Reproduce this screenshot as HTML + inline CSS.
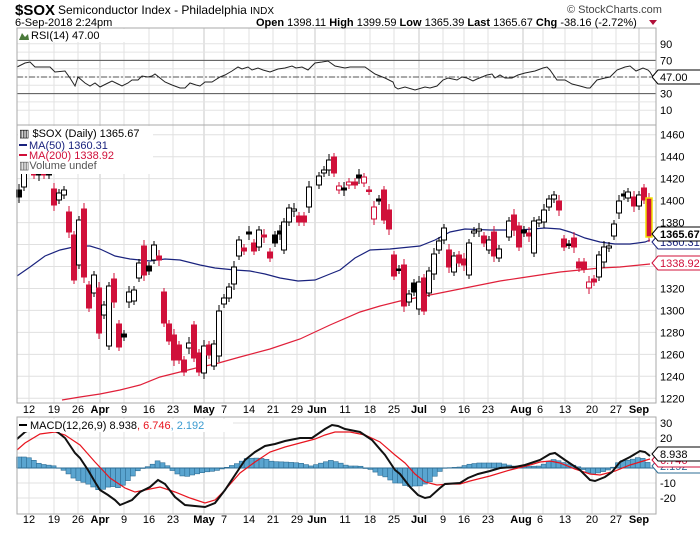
<!DOCTYPE html>
<html><head><meta charset="utf-8"><style>
body{margin:0;background:#fff;width:700px;height:530px;overflow:hidden;font-family:"Liberation Sans",sans-serif}
svg text{font-family:"Liberation Sans",sans-serif;font-size:11px}
</style></head><body>
<svg id="s" width="700" height="530" xmlns="http://www.w3.org/2000/svg">
<rect width="700" height="530" fill="#fff"/>
<g id="grid" stroke="#d8d8d8" stroke-width="1"></g>
<g id="content"></g>
<text x="15" y="15" style="font-size:15px;font-weight:bold">$SOX</text>
<text x="58" y="14" style="font-size:12px">Semiconductor Index - Philadelphia <tspan style="font-size:10px">INDX</tspan></text>
<text x="15" y="26" style="font-size:11px">6-Sep-2018 2:24pm</text>
<text x="256" y="26" style="font-size:11px"><tspan font-weight="bold">Open</tspan> 1398.11 <tspan font-weight="bold">High</tspan> 1399.59 <tspan font-weight="bold">Low</tspan> 1365.39 <tspan font-weight="bold">Last</tspan> 1365.67 <tspan font-weight="bold">Chg</tspan> -38.16 (-2.72%)</text>
<polygon points="649,20 657,20 653,25" fill="#b0103a"/>
<text x="567" y="13" style="font-size:11px;fill:#444">© StockCharts.com</text>
</svg>
<script>
var NS="http://www.w3.org/2000/svg",C=document.getElementById('content'),G=document.getElementById('grid');
function el(t,a,p){var e=document.createElementNS(NS,t);for(var k in a)e.setAttribute(k,a[k]);(p||C).appendChild(e);return e;}
function txt(x,y,s,a){a=a||{};a.x=x;a.y=y;var e=el('text',a);e.textContent=s;return e;}
var L=17,R=656;
var vx=[29,54,78,100,124,149,173,204,224,249,273,297,315,345,370,394,419,443,464,488,523,543,565,592,616,639];
var panels=[[28,125],[125,403],[417,514]];
vx.forEach(function(x){panels.forEach(function(p){el('line',{x1:x,x2:x,y1:p[0],y2:p[1],stroke:(x==100||x==204||x==315||x==419||x==523||x==639)?'#c8c8c8':'#e0e0e0'},G);});});
function ry(v){return 77-(v-50)*0.83;}
for(var v=10;v<=90;v+=10){el('line',{x1:L,x2:R,y1:ry(v),y2:ry(v),stroke:'#e4e4e4'},G);}
function py(p){return 156.7+(1440-p)*1.098;}
for(var p=1220;p<=1460;p+=20){el('line',{x1:L,x2:R,y1:py(p),y2:py(p),stroke:'#e0e0e0'},G);txt(660,py(p)+4,String(p));}
function my(v){return 468-v*1.5;}
[30,20,10,0,-10,-20].forEach(function(v){el('line',{x1:L,x2:R,y1:my(v),y2:my(v),stroke:'#e0e0e0'},G);});
[[30,'30'],[20,'20'],[-10,'-10'],[-20,'-20']].forEach(function(a){txt(660,my(a[0])+4,a[1]);});
el('line',{x1:L,x2:R,y1:ry(70),y2:ry(70),stroke:'#555'});
el('line',{x1:L,x2:R,y1:ry(30),y2:ry(30),stroke:'#555'});
el('line',{x1:L,x2:R,y1:ry(50),y2:ry(50),stroke:'#555','stroke-dasharray':'6,2,2,2'});
[[90],[70],[30],[10]].forEach(function(a){txt(660,ry(a[0])+4,String(a[0]));});
var rsi=[[17,67],[25,63],[30,62],[35,67],[50,67],[55,72],[65,71],[70,78],[75,86],[78,77],[85,83],[90,86],[95,83],[100,87],[108,83],[112,81],[118,84],[122,86],[128,83],[132,80],[138,80],[142,76],[148,77],[152,76],[155,74],[160,78],[165,82],[172,85],[180,88],[185,88],[190,83],[196,85],[200,86],[205,82],[212,82],[220,77],[225,75],[232,71],[238,67],[242,69],[248,67],[252,70],[258,68],[263,70],[270,72],[278,69],[285,68],[292,66],[296,68],[302,67],[308,70],[315,63],[322,62],[328,61],[335,66],[345,68],[350,67],[365,67],[375,74],[380,76],[385,78],[393,82],[395,87],[398,89],[405,87],[415,90],[425,87],[430,88],[437,86],[443,80],[448,78],[457,80],[462,77],[467,78],[473,81],[477,79],[487,75],[492,74],[495,78],[500,75],[505,78],[512,78],[518,75],[525,73],[535,71],[543,68],[547,67],[550,70],[557,80],[565,80],[572,84],[580,86],[587,88],[590,88],[597,80],[605,78],[610,77],[617,70],[625,67],[630,66],[636,71],[643,68],[648,70],[650,72],[653,77]];
function poly(pts,st,w){el('polyline',{points:pts.map(function(p){return p.join(',')}).join(' '),fill:'none',stroke:st,'stroke-width':w||1});}
poly(rsi,'#222',1);
poly([[17,276],[30,267],[45,256],[60,250],[78,246],[90,246],[100,249],[115,256],[130,259],[150,261],[165,259],[180,260],[200,265],[215,268],[235,270],[250,271],[265,274],[280,278],[298,281],[315,280],[330,274],[340,270],[355,258],[370,250],[390,249],[410,247],[420,246],[435,240],[450,232],[465,229],[490,230],[520,230],[545,228],[560,229],[570,232],[585,238],[600,242],[615,244],[630,244],[645,242],[650,240]],'#1a237e',1.2);
poly([[62,400],[80,397],[100,394],[120,390],[140,385],[160,377],[180,372],[200,367],[215,364],[240,357],[270,349],[300,339],[330,325],[360,312],[380,306],[400,301],[420,297],[440,293],[470,287],[500,281],[520,278],[540,275],[560,272],[580,270],[600,268],[620,267],[640,265],[650,264]],'#e0203a',1.2);
var cd=[[19,190,197,'b'],[24,170,187,'h'],[34,170,175,'r'],[39,170,175,'b'],[44,170,175,'r'],[49,170,175,'b'],[54,189,205,'r'],[59,193,200,'h'],[64,190,195,'h'],[69,212,232,'r'],[74,235,280,'r'],[79,220,265,'h'],[84,209,277,'r'],[89,285,308,'r'],[94,275,293,'h'],[99,288,333,'r'],[104,305,315,'h'],[109,286,346,'h'],[114,279,302,'r'],[119,324,347,'r'],[124,334,337,'b'],[129,292,302,'h'],[134,290,301,'h'],[139,263,278,'h'],[144,246,275,'r'],[149,266,271,'b'],[154,245,260,'h'],[159,256,260,'r'],[164,292,323,'r'],[169,324,341,'r'],[174,335,360,'r'],[179,345,360,'r'],[184,360,372,'r'],[189,343,348,'h'],[194,325,358,'r'],[199,353,372,'r'],[204,346,373,'h'],[209,345,355,'r'],[214,344,366,'h'],[219,311,356,'h'],[224,298,304,'h'],[229,287,298,'h'],[234,267,284,'h'],[239,240,256,'h'],[244,248,251,'r'],[249,232,234,'b'],[254,243,251,'r'],[259,230,247,'h'],[264,235,237,'r'],[270,252,258,'r'],[275,235,243,'b'],[280,231,234,'b'],[284,222,250,'h'],[289,208,222,'h'],[294,209,211,'h'],[299,216,222,'r'],[304,216,222,'r'],[309,187,207,'h'],[319,176,185,'h'],[324,170,173,'h'],[329,160,170,'h'],[334,157,173,'r'],[339,186,190,'o'],[344,188,190,'b'],[349,182,185,'o'],[355,182,185,'r'],[359,175,178,'b'],[364,177,183,'o'],[369,190,191,'r'],[374,207,219,'o'],[379,199,201,'b'],[384,190,220,'r'],[389,210,229,'r'],[394,255,276,'r'],[399,269,270,'b'],[404,265,306,'r'],[409,294,302,'h'],[414,283,292,'b'],[419,282,309,'h'],[424,278,311,'r'],[429,271,293,'h'],[434,254,274,'h'],[439,241,250,'h'],[444,228,240,'h'],[449,250,267,'r'],[454,256,272,'h'],[459,255,263,'r'],[464,259,265,'r'],[469,243,275,'h'],[474,231,233,'h'],[479,229,231,'h'],[484,236,243,'r'],[489,240,250,'h'],[494,232,256,'r'],[499,249,258,'h'],[509,221,237,'h'],[514,215,230,'r'],[519,226,247,'r'],[524,230,233,'b'],[529,233,236,'r'],[534,221,253,'h'],[539,220,223,'h'],[544,210,222,'h'],[549,199,207,'h'],[554,195,199,'h'],[559,201,210,'r'],[564,239,247,'r'],[569,244,245,'b'],[574,238,247,'r'],[579,262,268,'r'],[584,262,269,'r'],[589,282,288,'o'],[594,279,282,'r'],[599,255,277,'h'],[604,247,262,'h'],[609,246,248,'h'],[614,224,236,'h'],[619,201,213,'h'],[624,194,196,'b'],[628,192,198,'h'],[634,197,206,'r'],[639,195,206,'h'],[644,188,200,'r'],[649,199,236,'r']];
cd.forEach(function(c,i){var col=(c[3]=='r'||c[3]=='o')?'#d0103a':'#000';var w=(i%3==0)?6:4;
 el('line',{x1:c[0],x2:c[0],y1:Math.max(126,c[1]-w),y2:c[2]+w,stroke:col});
 var h=Math.max(1.5,c[2]-c[1]);var fill=(c[3]=='r'||c[3]=='b')?col:'#fff';
 el('rect',{x:c[0]-2.5,y:c[1],width:5,height:h,fill:fill,stroke:col,'stroke-width':1});});
el('rect',{x:646,y:198,width:6,height:39,fill:'none',stroke:'#f0e000','stroke-width':1.5});
var bk=[[17,439],[25,432],[30,430],[55,430],[65,438],[75,453],[80,458],[88,470],[95,482],[100,490],[108,495],[115,500],[120,505],[125,503],[132,500],[140,492],[150,487],[158,480],[165,484],[175,497],[185,505],[195,506],[205,507],[215,503],[225,490],[235,475],[245,460],[255,452],[265,446],[275,444],[285,441],[300,438],[312,438],[325,429],[332,425],[338,426],[345,429],[360,432],[372,440],[385,455],[395,470],[400,474],[410,487],[418,495],[425,498],[430,497],[440,488],[445,484],[460,483],[468,478],[478,474],[490,471],[500,468],[515,467],[525,465],[540,460],[550,454],[555,453],[565,460],[580,470],[590,480],[595,481],[605,477],[612,472],[620,462],[630,457],[640,451],[645,452],[650,456]];
var rd=[[17,450],[25,443],[40,434],[55,432],[65,435],[80,445],[95,462],[110,478],[125,488],[135,492],[145,490],[160,487],[175,492],[190,498],[205,503],[215,500],[225,490],[240,473],[255,462],[270,452],[285,447],[300,443],[315,439],[325,435],[335,432],[350,432],[365,435],[380,442],[395,455],[405,463],[415,474],[425,482],[437,485],[450,484],[460,484],[470,481],[490,476],[510,470],[530,465],[540,462],[550,461],[560,463],[575,469],[590,474],[600,475],[615,471],[630,465],[640,462],[650,459]];
function interp(a,x){for(var i=0;i<a.length-1;i++){if(x>=a[i][0]&&x<=a[i+1][0]){var t=(x-a[i][0])/(a[i+1][0]-a[i][0]);return a[i][1]+t*(a[i+1][1]-a[i][1]);}}return a[a.length-1][1];}
for(var x=19;x<=651;x+=4.95){var hv=(interp(rd,x)-interp(bk,x));var y0=468,y1=468-hv;
 el('rect',{x:x-2.5,y:Math.min(y0,y1),width:4.95,height:Math.max(0.5,Math.abs(hv)),fill:'#5aa5d0',stroke:'#2e6d94','stroke-width':0.6});}
el('line',{x1:L,x2:R,y1:468,y2:468,stroke:'#2e6d94'});
poly(rd,'#e8141e',1.2);poly(bk,'#111',2);
panels.forEach(function(p){el('rect',{x:L,y:p[0],width:R-L,height:p[1]-p[0],fill:'none',stroke:'#aaa'});});
var lb=[[29,'12'],[54,'19'],[78,'26'],[100,'Apr',1],[124,'9'],[149,'16'],[173,'23'],[204,'May',1],[224,'7'],[249,'14'],[273,'21'],[297,'29'],[317,'Jun',1],[345,'11'],[370,'18'],[394,'25'],[419,'Jul',1],[443,'9'],[464,'16'],[488,'23'],[521,'Aug',1],[540,'6'],[565,'13'],[592,'20'],[616,'27'],[639,'Sep',1]];
[413,523].forEach(function(y){lb.forEach(function(l){var t=txt(l[0],y,l[1],{'text-anchor':'middle'});if(l[2])t.setAttribute('font-weight','bold');});});
el('rect',{x:18,y:29,width:110,height:13,fill:'#fff'});
el('path',{d:'M19,40 L22,33 L25,37 L28,34 L29,40 Z',fill:'#4a7a3a'});
txt(31,39,'RSI(14) 47.00');
el('rect',{x:18,y:126,width:135,height:48,fill:'#fff'});
txt(19,137,'▥ $SOX (Daily) 1365.67');
el('line',{x1:19,x2:27,y1:145,y2:145,stroke:'#1a237e','stroke-width':2});txt(29,149,'MA(50) 1360.31',{fill:'#1a237e'});
el('line',{x1:19,x2:27,y1:155,y2:155,stroke:'#d0103a','stroke-width':2});txt(29,159,'MA(200) 1338.92',{fill:'#d0103a'});
txt(19,169,'▥Volume undef',{fill:'#555'});
el('rect',{x:18,y:419,width:215,height:13,fill:'#fff'});
el('line',{x1:19,x2:27,y1:425,y2:425,stroke:'#000','stroke-width':2});
var t=txt(30,429,'');t.innerHTML='MACD(12,26,9) 8.938<tspan fill="#e8141e">, 6.746</tspan><tspan fill="#3a9ad0">, 2.192</tspan>';
function tag(y,s,col,bold){el('path',{d:'M652,'+y+' l6,-7 h43 v14 h-43 z',fill:'#fff',stroke:col});txt(660,y+4,s,{fill:col,'font-weight':bold?'bold':'normal'});}
tag(77,'47.00','#000');
tag(242,'1360.31','#1a237e');tag(263,'1338.92','#d0103a');tag(234,'1365.67','#000',1);
tag(466,'2.192','#2e6d94');tag(460,'6.746','#d0103a');tag(454,'8.938','#000');
</script>
</body></html>
